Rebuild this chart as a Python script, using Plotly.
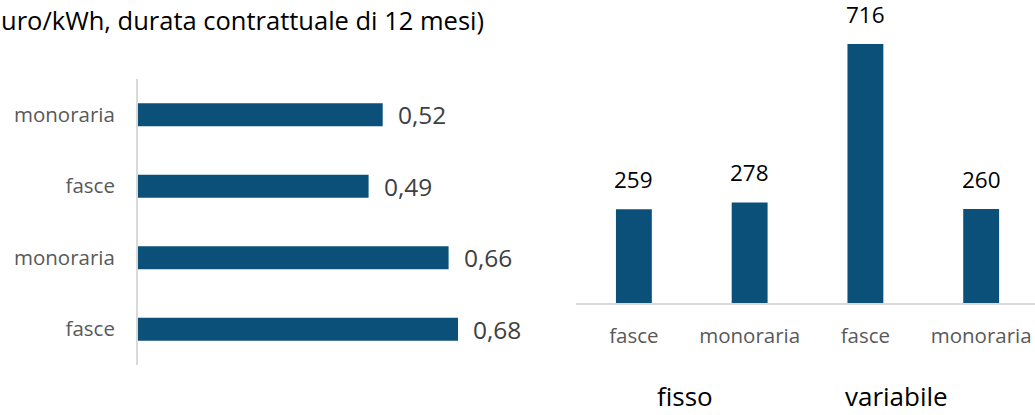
"""Prezzi e spesa delle offerte - ricostruzione del grafico a due pannelli."""

import plotly.graph_objects as go

# --- Dati ---------------------------------------------------------------------

TITLE_TEXT = "uro/kWh, durata contrattuale di 12 mesi)"

# pannello sinistro (dal basso verso l'alto): fisso fasce, fisso monoraria,
# variabile fasce, variabile monoraria
price_labels = ["fasce", "monoraria", "fasce", "monoraria"]
price_values = [0.68, 0.66, 0.49, 0.52]

# pannello destro
spend_labels = ["fasce", "monoraria", "fasce", "monoraria"]
spend_values = [259, 278, 716, 260]
group_labels = ["fisso", "variabile"]

# --- Stile --------------------------------------------------------------------

FONT = "Open Sans"
BAR_COLOR = "#0a5078"
AXIS_COLOR = "#d9d9d9"
TICK_COLOR = "#595959"
VALUE_COLOR_LEFT = "#404040"

W, H = 1035, 415


def px_x(p):
    return p / W


def px_y(p):
    return (H - p) / H


price_pos = list(range(len(price_values)))
spend_pos = list(range(len(spend_values)))

fig = go.Figure()

fig.add_trace(go.Bar(
    x=price_values, y=price_pos, orientation="h", width=0.32,
    marker=dict(color=BAR_COLOR, line=dict(width=0)),
    xaxis="x", yaxis="y", showlegend=False, hoverinfo="skip",
))
fig.add_trace(go.Bar(
    x=spend_pos, y=spend_values, width=0.31,
    marker=dict(color=BAR_COLOR, line=dict(width=0)),
    xaxis="x2", yaxis="y2", showlegend=False, hoverinfo="skip",
))

annotations = [dict(
    text=TITLE_TEXT, xref="paper", yref="paper", x=0, y=px_y(20),
    xanchor="left", yanchor="middle", showarrow=False, borderpad=0,
    font=dict(family=FONT, size=25.5, color="#000000"),
)]

for pos, v in zip(price_pos, price_values):
    annotations.append(dict(
        text=f"{v:.2f}".replace(".", ","), x=v, y=pos, xref="x", yref="y",
        xanchor="left", yanchor="middle", xshift=13, showarrow=False,
        font=dict(family=FONT, size=24.5, color=VALUE_COLOR_LEFT),
    ))

for pos, v in zip(spend_pos, spend_values):
    annotations.append(dict(
        text=str(v), x=pos, y=v, xref="x2", yref="y2",
        xanchor="center", yanchor="bottom", yshift=12, showarrow=False,
        font=dict(family=FONT, size=22.5, color="#000000"),
    ))

# etichette di gruppo sotto l'asse del pannello destro
for label, xpos in zip(group_labels, [0.44, 2.27]):
    annotations.append(dict(
        text=label, x=xpos, y=px_y(396), xref="x2", yref="paper",
        xanchor="center", yanchor="middle", showarrow=False, borderpad=0,
        font=dict(family=FONT, size=26, color="#000000"),
    ))

fig.update_layout(
    width=W, height=H,
    margin=dict(l=0, r=0, t=0, b=0),
    paper_bgcolor="white", plot_bgcolor="white",
    annotations=annotations,
    xaxis=dict(
        domain=[px_x(138), px_x(538)], range=[0, 0.85],
        showgrid=False, zeroline=False, showline=False, showticklabels=False,
    ),
    yaxis=dict(
        domain=[px_y(365), px_y(79)], range=[-0.5, 3.5],
        tickvals=price_pos, ticktext=price_labels,
        tickfont=dict(family=FONT, size=20.5, color=TICK_COLOR),
        ticks="", ticklabelstandoff=17,
        showgrid=False, zeroline=False,
        showline=True, linecolor=AXIS_COLOR, linewidth=2,
    ),
    xaxis2=dict(
        domain=[px_x(576), 1.0], range=[-0.5, 3.465], anchor="y2",
        tickvals=spend_pos, ticktext=spend_labels,
        tickfont=dict(family=FONT, size=20.5, color=TICK_COLOR),
        ticks="", ticklabelstandoff=13,
        showgrid=False, zeroline=False,
        showline=True, linecolor=AXIS_COLOR, linewidth=2,
    ),
    yaxis2=dict(
        domain=[px_y(303), 1.0], range=[0, 838], anchor="x2",
        showgrid=False, zeroline=False, showline=False, showticklabels=False,
    ),
)

# il margine di default del body sposterebbe il grafico di 8 px
fig.write_html(
    "out.html",
    config={"displayModeBar": False},
    post_script="document.body.style.margin='0';",
)
